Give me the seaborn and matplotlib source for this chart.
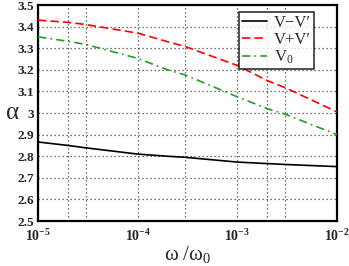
import numpy as np
import pandas as pd
import seaborn as sns
import matplotlib
matplotlib.use("Agg")
import matplotlib.pyplot as plt

# values
omega = [1e-5, 2e-5, 3e-5, 1e-4, 2e-4, 3e-4, 1e-3, 2e-3, 3e-3, 1e-2]
alpha_minus = [2.866, 2.850, 2.839, 2.810, 2.800, 2.795, 2.773, 2.766, 2.762, 2.752]
alpha_plus = [3.430, 3.420, 3.410, 3.370, 3.330, 3.308, 3.220, 3.150, 3.118, 3.005]
alpha_v0 = [3.353, 3.332, 3.318, 3.253, 3.200, 3.176, 3.075, 3.020, 2.995, 2.900]
labels = ["V\u2212V\u2032", "V+V\u2032", r"V$_0$"]

grid_x = [1e-5, 2e-5, 3e-5, 1e-4, 3e-4, 1e-3, 2e-3, 3e-3, 1e-2]
xtick_pos = [1e-5, 1e-4, 1e-3, 1e-2]
xtick_lab = [r"$\mathbf{10^{-5}}$", r"$\mathbf{10^{-4}}$", r"$\mathbf{10^{-3}}$", r"$\mathbf{10^{-2}}$"]
yticks = [2.5, 2.6, 2.7, 2.8, 2.9, 3.0, 3.1, 3.2, 3.3, 3.4, 3.5]
ytick_lab = ["2.5", "2.6", "2.7", "2.8", "2.9", "3", "3.1", "3.2", "3.3", "3.4", "3.5"]

df = pd.DataFrame({
    "omega": omega * 3,
    "alpha": alpha_minus + alpha_plus + alpha_v0,
    "curve": [labels[0]] * len(omega) + [labels[1]] * len(omega) + [labels[2]] * len(omega),
})

sns.set_style("white")
plt.rcParams["font.family"] = ["Liberation Serif", "DejaVu Serif"]
plt.rcParams["mathtext.fontset"] = "custom"
plt.rcParams["mathtext.rm"] = "Liberation Serif"
plt.rcParams["mathtext.it"] = "Liberation Serif:italic"
plt.rcParams["mathtext.bf"] = "Liberation Serif:bold"

fig = plt.figure(figsize=(3.49, 2.66), dpi=100)
ax = fig.add_axes([0.109, 0.169, 0.857, 0.812])

# dotted grid first so lines sit on top
for gx in grid_x:
    ax.axvline(gx, color="#444444", ls=(0, (1, 2.2)), lw=0.9, zorder=1)
for gy in yticks[1:-1]:
    ax.axhline(gy, color="#444444", ls=(0, (1, 2.2)), lw=0.9, zorder=1)

sns.lineplot(data=df, x="omega", y="alpha", hue="curve", style="curve",
             palette=["black", "red", "#22a022"],
             dashes=[(None, None), (5, 2.5), (5, 2.5, 1, 2.5)],
             linewidth=1.2, ax=ax, zorder=3)

ax.set_xscale("log")
ax.set_xlim(1e-5, 1e-2)
ax.set_ylim(2.5, 3.5)
ax.set_xticks(xtick_pos)
ax.set_xticklabels(xtick_lab, fontsize=10)
ax.minorticks_off()
ax.set_yticks(yticks)
ax.set_yticklabels(ytick_lab, fontsize=9.5, fontweight="bold")
ax.tick_params(length=0, pad=3)
ax.tick_params(axis="x", pad=5)

for s in ax.spines.values():
    s.set_linewidth(1.6)
    s.set_color("black")

ax.set_xlabel("\u03c9 /\u03c9$_0$", fontsize=15, labelpad=0)
ax.set_ylabel("\u03b1", fontsize=18, rotation=0, va="center", ha="center")
ax.yaxis.set_label_coords(-0.084, 0.5)

leg = ax.legend(loc="upper right", bbox_to_anchor=(0.935, 0.985), fontsize=12,
                frameon=True, fancybox=False, edgecolor="black",
                handlelength=1.5, handletextpad=0.4, borderpad=0.2,
                labelspacing=0.05, borderaxespad=0.2)
leg.get_frame().set_linewidth(1.2)
leg.set_title(None)

fig.savefig("out.png", dpi=100)
